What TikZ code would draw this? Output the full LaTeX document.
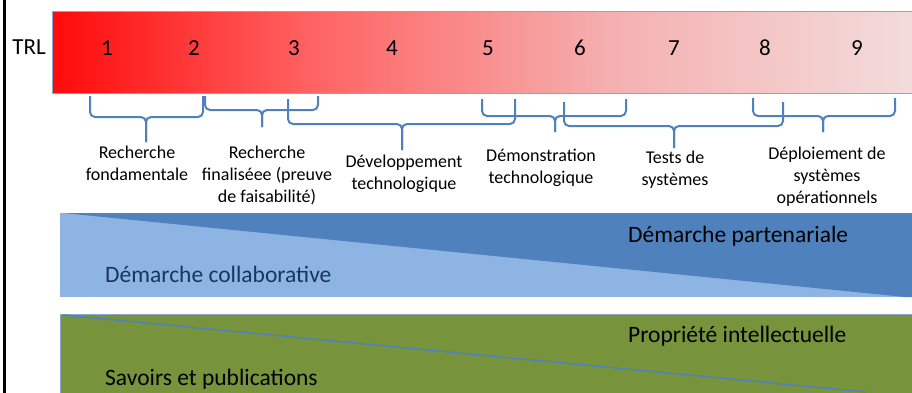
\documentclass[tikz,border=0pt]{standalone}
\usepackage{fontspec}
\setmainfont{Carlito}
\definecolor{bracecol}{RGB}{79,129,189}
\definecolor{lightblue}{RGB}{141,180,226}
\definecolor{darkblue}{RGB}{79,129,189}
\definecolor{olive}{RGB}{119,147,60}
\definecolor{navytext}{RGB}{23,55,94}
\definecolor{barborder}{RGB}{140,165,200}
\definecolor{sA}{RGB}{255,10,10}
\definecolor{sB}{RGB}{255,98,98}
\definecolor{sC}{RGB}{245,176,176}
\definecolor{sD}{RGB}{242,220,219}
\pgfdeclarehorizontalshading{trlshade}{100bp}{color(0bp)=(sA); color(25bp)=(sA); color(40bp)=(sB); color(57.5bp)=(sC); color(75bp)=(sD); color(100bp)=(sD)}
\tikzset{
  bracestyle/.style={draw=bracecol, line width=2pt, rounded corners=5pt},
  numstyle/.style={font=\fontsize{23}{27}\selectfont, anchor=base, inner sep=0pt},
  lblstyle/.style={font=\fontsize{18}{22}\selectfont, align=center, anchor=base, inner sep=0pt},
  bandtext/.style={font=\fontsize{23.5}{28}\selectfont, anchor=base west, inner sep=0pt}
}
\newcommand{\mybrace}[6]{%
  \draw[bracestyle] (#1,#3) -- (#1,#4) -- (#5,#4) -- (#5,#6);
  \draw[bracestyle] (#2,#3) -- (#2,#4) -- (#5,#4) -- (#5,#6);
}
\begin{document}
\begin{tikzpicture}[x=1pt,y=-1pt]
\useasboundingbox (0,0) rectangle (912,392);
\fill[white] (0,0) rectangle (912,392);
% left black line
\draw[black, line width=2.5pt] (4.5,-5) -- (4.5,400);
% TRL bar
\shade[shading=trlshade] (52,11) rectangle (912,93);
\draw[barborder, line width=0.8pt] (912,11) -- (52,11) -- (52,93) -- (912,93);
\node[numstyle] (trl) at (29,54) {TRL};
\node[numstyle] (n1) at (107,55) {1};
\node[numstyle] (n2) at (194,55) {2};
\node[numstyle] (n3) at (294,55) {3};
\node[numstyle] (n4) at (392,55) {4};
\node[numstyle] (n5) at (488,55) {5};
\node[numstyle] (n6) at (580,55) {6};
\node[numstyle] (n7) at (674,55) {7};
\node[numstyle] (n8) at (765,55) {8};
\node[numstyle] (n9) at (857,55) {9};
% braces
\mybrace{90}{203}{96}{117}{146}{142}
\mybrace{205}{318}{96}{110}{262}{127}
\mybrace{288}{515}{99}{124}{402}{150}
\mybrace{482}{626}{99}{116}{555}{132}
\mybrace{564}{783}{102}{126}{674}{148}
\mybrace{753}{895}{98}{116}{823}{132}
% labels
\node[lblstyle] (l1) at (137,180) {Recherche\\fondamentale};
\node[lblstyle] (l2) at (267,202) {Recherche\\finaliséee (preuve\\de faisabilité)};
\node[lblstyle] (l3) at (404,189) {Développement\\technologique};
\node[lblstyle] (l4) at (541,183) {Démonstration\\technologique};
\node[lblstyle] (l5) at (675,185) {Tests de\\systèmes};
\node[lblstyle] (l6) at (827,203) {Déploiement de\\systèmes\\opérationnels};
% blue band
\fill[lightblue] (60,213) rectangle (912,297);
\fill[darkblue] (63,213) -- (912,213) -- (912,297) -- (905,297) -- cycle;
\node[bandtext, text=navytext] (collab) at (105,282) {Démarche collaborative};
\node[bandtext, text=black] (parten) at (628,242) {Démarche partenariale};
% green band
\fill[olive] (60,314) rectangle (912,400);
\draw[barborder, line width=0.8pt] (60,400) -- (60,314) -- (912,314);
\draw[darkblue, line width=1.5pt] (63,315) -- (866,392);
\node[bandtext, text=black] (prop) at (628,342) {Propriété intellectuelle};
\node[bandtext, text=black] (savoirs) at (105,385) {Savoirs et publications};
\end{tikzpicture}
\end{document}
